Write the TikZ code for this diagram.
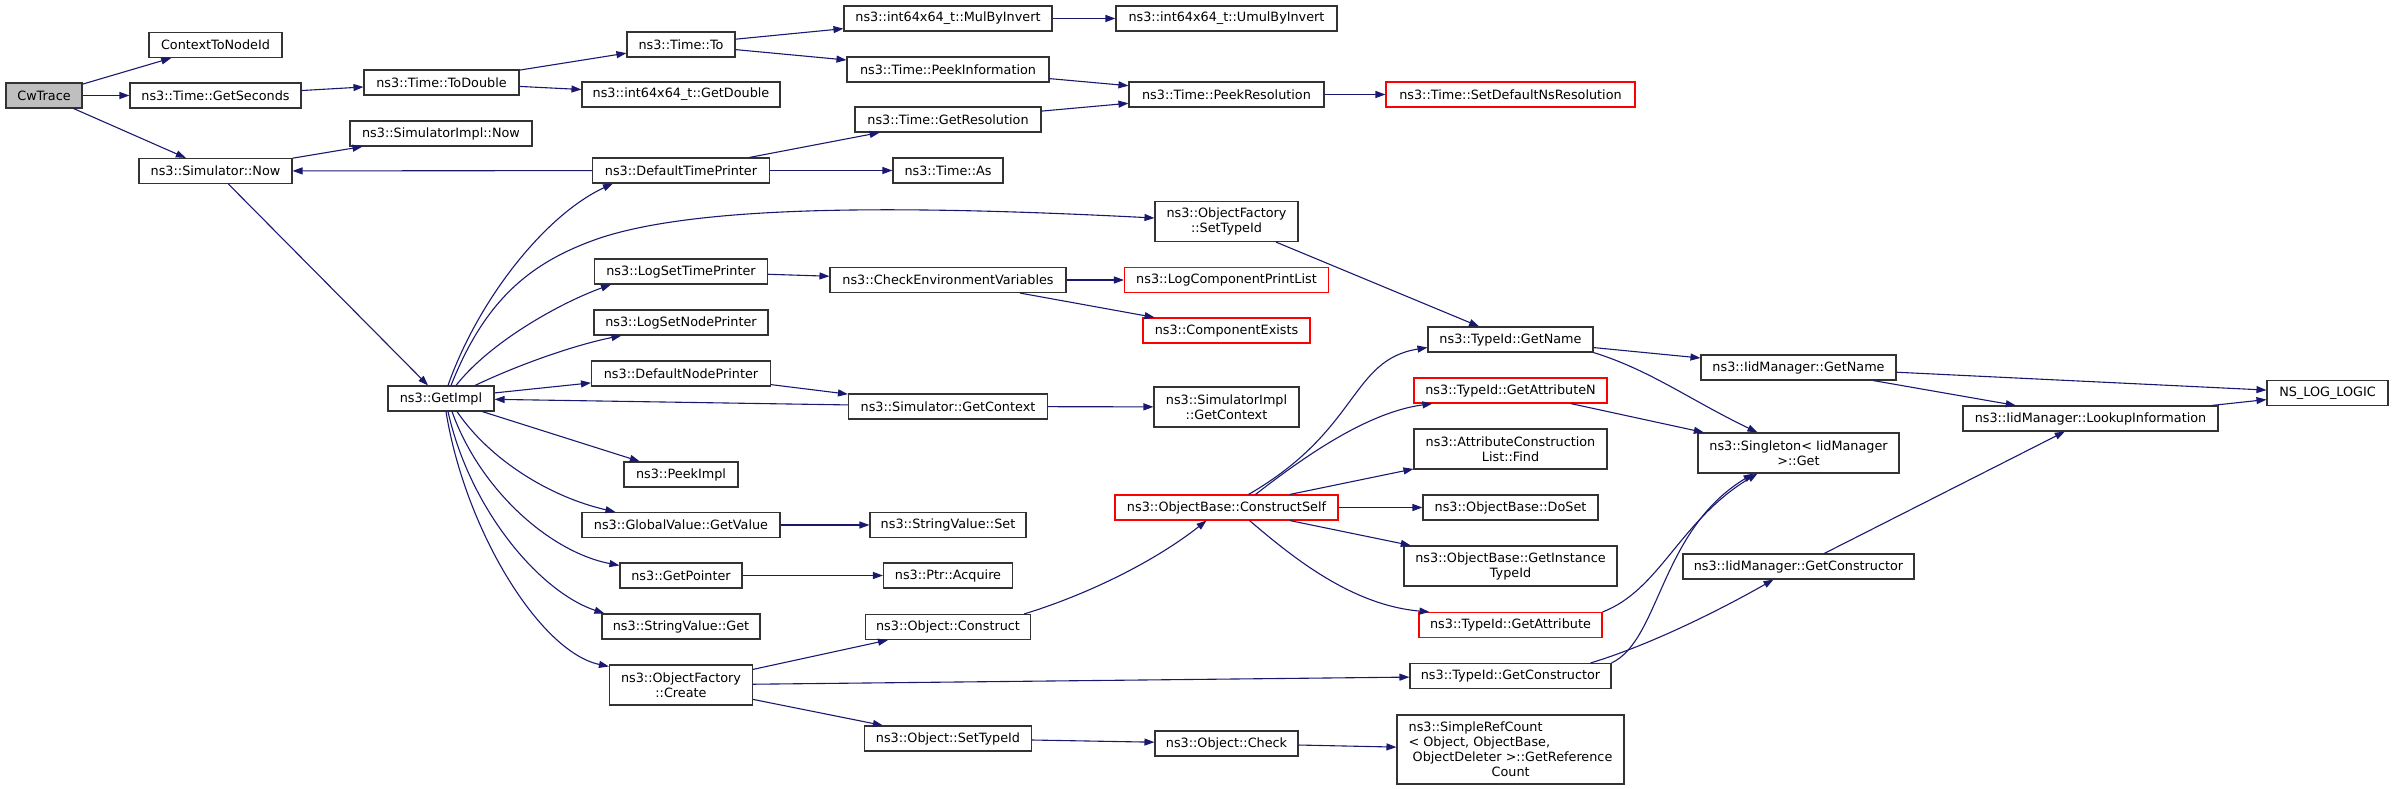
\documentclass[tikz,border=0pt]{standalone}
\usepackage{fontspec}
\setmainfont{DejaVu Sans}
\usepackage{tikz}
\usetikzlibrary{arrows.meta}
\definecolor{edgeblue}{HTML}{191970}
\definecolor{rootgray}{HTML}{BFBFBF}
\newcommand{\fnfont}{\fontsize{12.8pt}{15pt}\selectfont}

\begin{document}
\begin{tikzpicture}[x=1pt, y=-1pt,
        fn/.style={draw=black!80, line width=1.1pt, inner sep=0pt, align=center, font=\fnfont, minimum height=25pt},
        fnred/.style={fn, draw=red},
        call/.style={draw=edgeblue, line width=1.1pt, -{Triangle[length=10pt,width=7pt]}}]
            \useasboundingbox (0,0) rectangle (2395,789);

            \node[fn, fill=rootgray, minimum width=76pt] (root) at (44,95.5) {CwTrace};
            \node[fn, minimum width=133pt] (ctxid) at (215.5,45) {ContextToNodeId};
            \node[fn, minimum width=171pt] (secs) at (215.5,95.5) {ns3::Time::GetSeconds};
            \node[fn, minimum width=153pt] (simnow) at (215.5,171) {ns3::Simulator::Now};
            \node[fn, minimum width=155pt] (todouble) at (441.5,82.5) {ns3::Time::ToDouble};
            \node[fn, minimum width=182pt] (simimplnow) at (441,133.5) {ns3::SimulatorImpl::Now};
            \node[fn, minimum width=106pt] (getimpl) at (441,398.5) {ns3::GetImpl};

            \node[fn, minimum width=108pt] (timeto) at (681,44.5) {ns3::Time::To};
            \node[fn, minimum width=198pt] (getdouble) at (681,94.5) {ns3::int64x64\_t::GetDouble};
            \node[fn, minimum width=177pt] (deftime) at (681,170.5) {ns3::DefaultTimePrinter};
            \node[fn, minimum width=173pt] (logsettime) at (681,271.5) {ns3::LogSetTimePrinter};
            \node[fn, minimum width=174pt] (logsetnode) at (681,322.5) {ns3::LogSetNodePrinter};
            \node[fn, minimum width=179pt] (defnode) at (681,373.5) {ns3::DefaultNodePrinter};
            \node[fn, minimum width=114pt] (peekimpl) at (681,474.5) {ns3::PeekImpl};
            \node[fn, minimum width=198pt] (getvalue) at (681,525) {ns3::GlobalValue::GetValue};
            \node[fn, minimum width=122pt] (getptr) at (681,575.5) {ns3::GetPointer};
            \node[fn, minimum width=158pt] (strget) at (681,626.5) {ns3::StringValue::Get};
            \node[fn, minimum width=143pt, minimum height=40pt] (create) at (681,685) {ns3::ObjectFactory\\::Create};

            \node[fn, minimum width=208pt] (mulinv) at (948,18.5) {ns3::int64x64\_t::MulByInvert};
            \node[fn, minimum width=202pt] (peekinfo) at (948,69.5) {ns3::Time::PeekInformation};
            \node[fn, minimum width=186pt] (getres) at (948,119.5) {ns3::Time::GetResolution};
            \node[fn, minimum width=110pt] (timeas) at (948,170.5) {ns3::Time::As};
            \node[fn, minimum width=236pt] (checkenv) at (948,280) {ns3::CheckEnvironmentVariables};
            \node[fn, minimum width=199pt] (simctx) at (948,406.5) {ns3::Simulator::GetContext};
            \node[fn, minimum width=156pt] (strset) at (948,525) {ns3::StringValue::Set};
            \node[fn, minimum width=129pt] (acquire) at (948,575.5) {ns3::Ptr::Acquire};
            \node[fn, minimum width=165pt] (construct) at (948,627) {ns3::Object::Construct};
            \node[fn, minimum width=167pt] (settid) at (948,738.5) {ns3::Object::SetTypeId};

            \node[fn, minimum width=221pt] (umulinv) at (1226.5,18.5) {ns3::int64x64\_t::UmulByInvert};
            \node[fn, minimum width=195pt] (peekres) at (1226.5,94.5) {ns3::Time::PeekResolution};
            \node[fn, minimum width=143pt, minimum height=40pt] (facsettid) at (1226.5,221.5) {ns3::ObjectFactory\\::SetTypeId};
            \node[fnred, minimum width=204pt] (logcomp) at (1226.5,280) {ns3::LogComponentPrintList};
            \node[fnred, minimum width=167pt] (compexists) at (1226.5,330.5) {ns3::ComponentExists};
            \node[fn, minimum width=145pt, minimum height=40pt] (simimplctx) at (1226.5,407) {ns3::SimulatorImpl\\::GetContext};
            \node[fnred, minimum width=223pt] (constructself) at (1226.5,507.5) {ns3::ObjectBase::ConstructSelf};
            \node[fn, minimum width=143pt] (check) at (1226.5,743.5) {ns3::Object::Check};

            \node[fnred, minimum width=249pt] (setdefres) at (1510.5,94.5) {ns3::Time::SetDefaultNsResolution};
            \node[fn, minimum width=165pt] (tidname) at (1510.5,339.5) {ns3::TypeId::GetName};
            \node[fnred, minimum width=193pt] (attrn) at (1510.5,390.5) {ns3::TypeId::GetAttributeN};
            \node[fn, minimum width=193pt, minimum height=40pt] (attrfind) at (1510.5,449) {ns3::AttributeConstruction\\List::Find};
            \node[fn, minimum width=175pt] (doset) at (1510.5,507.5) {ns3::ObjectBase::DoSet};
            \node[fn, minimum width=213pt, minimum height=40pt] (instid) at (1510.5,566) {ns3::ObjectBase::GetInstance\\TypeId};
            \node[fnred, minimum width=183pt] (getattr) at (1510.5,625) {ns3::TypeId::GetAttribute};
            \node[fn, minimum width=201pt] (getctor) at (1510.5,676) {ns3::TypeId::GetConstructor};
            \node[fn, minimum width=227pt, minimum height=69pt, align=left] (refcount) at (1510.5,749.5)
                {ns3::SimpleRefCount\\< Object, ObjectBase,\\\ ObjectDeleter >::GetReference\\\hspace*{83pt}Count};

            \node[fn, minimum width=195pt] (iidname) at (1798.5,367.5) {ns3::IidManager::GetName};
            \node[fn, minimum width=201pt, minimum height=40pt] (singleton) at (1798.5,453) {ns3::Singleton< IidManager\\>::Get};
            \node[fn, minimum width=231pt] (iidctor) at (1798.5,566.5) {ns3::IidManager::GetConstructor};
            \node[fn, minimum width=255pt] (lookup) at (2090.5,418.5) {ns3::IidManager::LookupInformation};
            \node[fn, minimum width=121pt] (nslog) at (2327.5,393) {NS\_LOG\_LOGIC};

            % calls
            \draw[call] (root) -- (ctxid);
            \draw[call] (root) -- (secs);
            \draw[call] (root) -- (simnow);
            \draw[call] (secs) -- (todouble);
            \draw[call] (todouble) -- (timeto);
            \draw[call] (todouble) -- (getdouble);
            \draw[call] (timeto) -- (mulinv);
            \draw[call] (timeto) -- (peekinfo);
            \draw[call] (mulinv) -- (umulinv);
            \draw[call] (peekinfo) -- (peekres);
            \draw[call] (getres) -- (peekres);
            \draw[call] (peekres) -- (setdefres);
            \draw[call] (simnow) -- (simimplnow);
            \draw[call] (simnow) -- (getimpl);
            \draw[call] (deftime) -- (simnow);
            \draw[call] (deftime) -- (getres);
            \draw[call] (deftime) -- (timeas);

            \draw[call] ([xshift=7pt]getimpl.north) .. controls (478,300) and (545,215) .. ([xshift=21pt]deftime.south west);
            \draw[call] ([xshift=10pt]getimpl.north) .. controls (485,300) and (530,262) .. (600,238)
                .. controls (700,205) and (900,205) .. ([yshift=3.5pt]facsettid.west);
            \draw[call] ([xshift=15pt]getimpl.north) .. controls (490,342) and (560,303) .. ([xshift=17pt]logsettime.south west);
            \draw[call] ([xshift=34pt]getimpl.north) .. controls (520,364) and (575,345) .. ([xshift=28pt]logsetnode.south west);
            \draw[call] (getimpl) -- (defnode);
            \draw[call] (simctx) -- (getimpl);
            \draw[call] (getimpl) -- (peekimpl);
            \draw[call] ([xshift=16pt]getimpl.south) .. controls (490,460) and (550,497) .. ([xshift=34pt]getvalue.north west);
            \draw[call] ([xshift=11pt]getimpl.south) .. controls (480,490) and (550,552) .. ([yshift=-3pt]getptr.north west);
            \draw[call] ([xshift=7pt]getimpl.south) .. controls (470,510) and (540,592) .. ([xshift=3pt]strget.north west);
            \draw[call] ([xshift=5pt]getimpl.south) .. controls (465,530) and (540,652) .. ([yshift=-2pt]create.north west);

            \draw[call] (logsettime) -- (checkenv);
            \draw[call] (checkenv) -- (logcomp);
            \draw[call] (checkenv) -- (compexists);
            \draw[call] (defnode) -- (simctx);
            \draw[call] (simctx) -- (simimplctx);
            \draw[call] (getvalue) -- (strset);
            \draw[call] (getptr) -- (acquire);
            \draw[call] (create) -- (construct);
            \draw[call] (create) -- (getctor);
            \draw[call] (create) -- (settid);
            \draw[call] (settid) -- (check);
            \draw[call] (check) -- (refcount);

            \draw[call] ([xshift=-7pt]construct.north east) .. controls (1080,597) and (1150,565) .. ([xshift=-20pt]constructself.south);
            \draw[call] ([xshift=22pt]constructself.north) .. controls (1360,430) and (1350,360) .. ([yshift=-8pt]tidname.west);
            \draw[call] ([xshift=29pt]constructself.north) .. controls (1310,452) and (1370,412) .. ([xshift=19pt]attrn.south west);
            \draw[call] (constructself) -- (attrfind);
            \draw[call] (constructself) -- (doset);
            \draw[call] (constructself) -- (instid);
            \draw[call] ([xshift=23pt]constructself.south) .. controls (1290,555) and (1350,605) .. ([xshift=11pt]getattr.north west);

            \draw[call] (facsettid) -- (tidname);
            \draw[call] (tidname) -- (iidname);
            \draw[call] (tidname.south east) .. controls (1650,370) and (1690,400) .. ([xshift=-41pt]singleton.north);
            \draw[call] (attrn) -- (singleton);
            \draw[call] (getattr.north east) .. controls (1660,590) and (1680,520) .. ([xshift=-41pt]singleton.south);
            \draw[call] (getctor.north east) .. controls (1660,640) and (1660,530) .. ([xshift=-45pt]singleton.south);
            \draw[call] ([xshift=-21pt]getctor.north east) .. controls (1650,645) and (1720,610) .. ([xshift=-25pt]iidctor.south);

            \draw[call] (iidname) -- (nslog);
            \draw[call] (iidname) -- (lookup);
            \draw[call] (lookup) -- (nslog);
            \draw[call] (iidctor) -- (lookup);
        \end{tikzpicture}
\end{document}
